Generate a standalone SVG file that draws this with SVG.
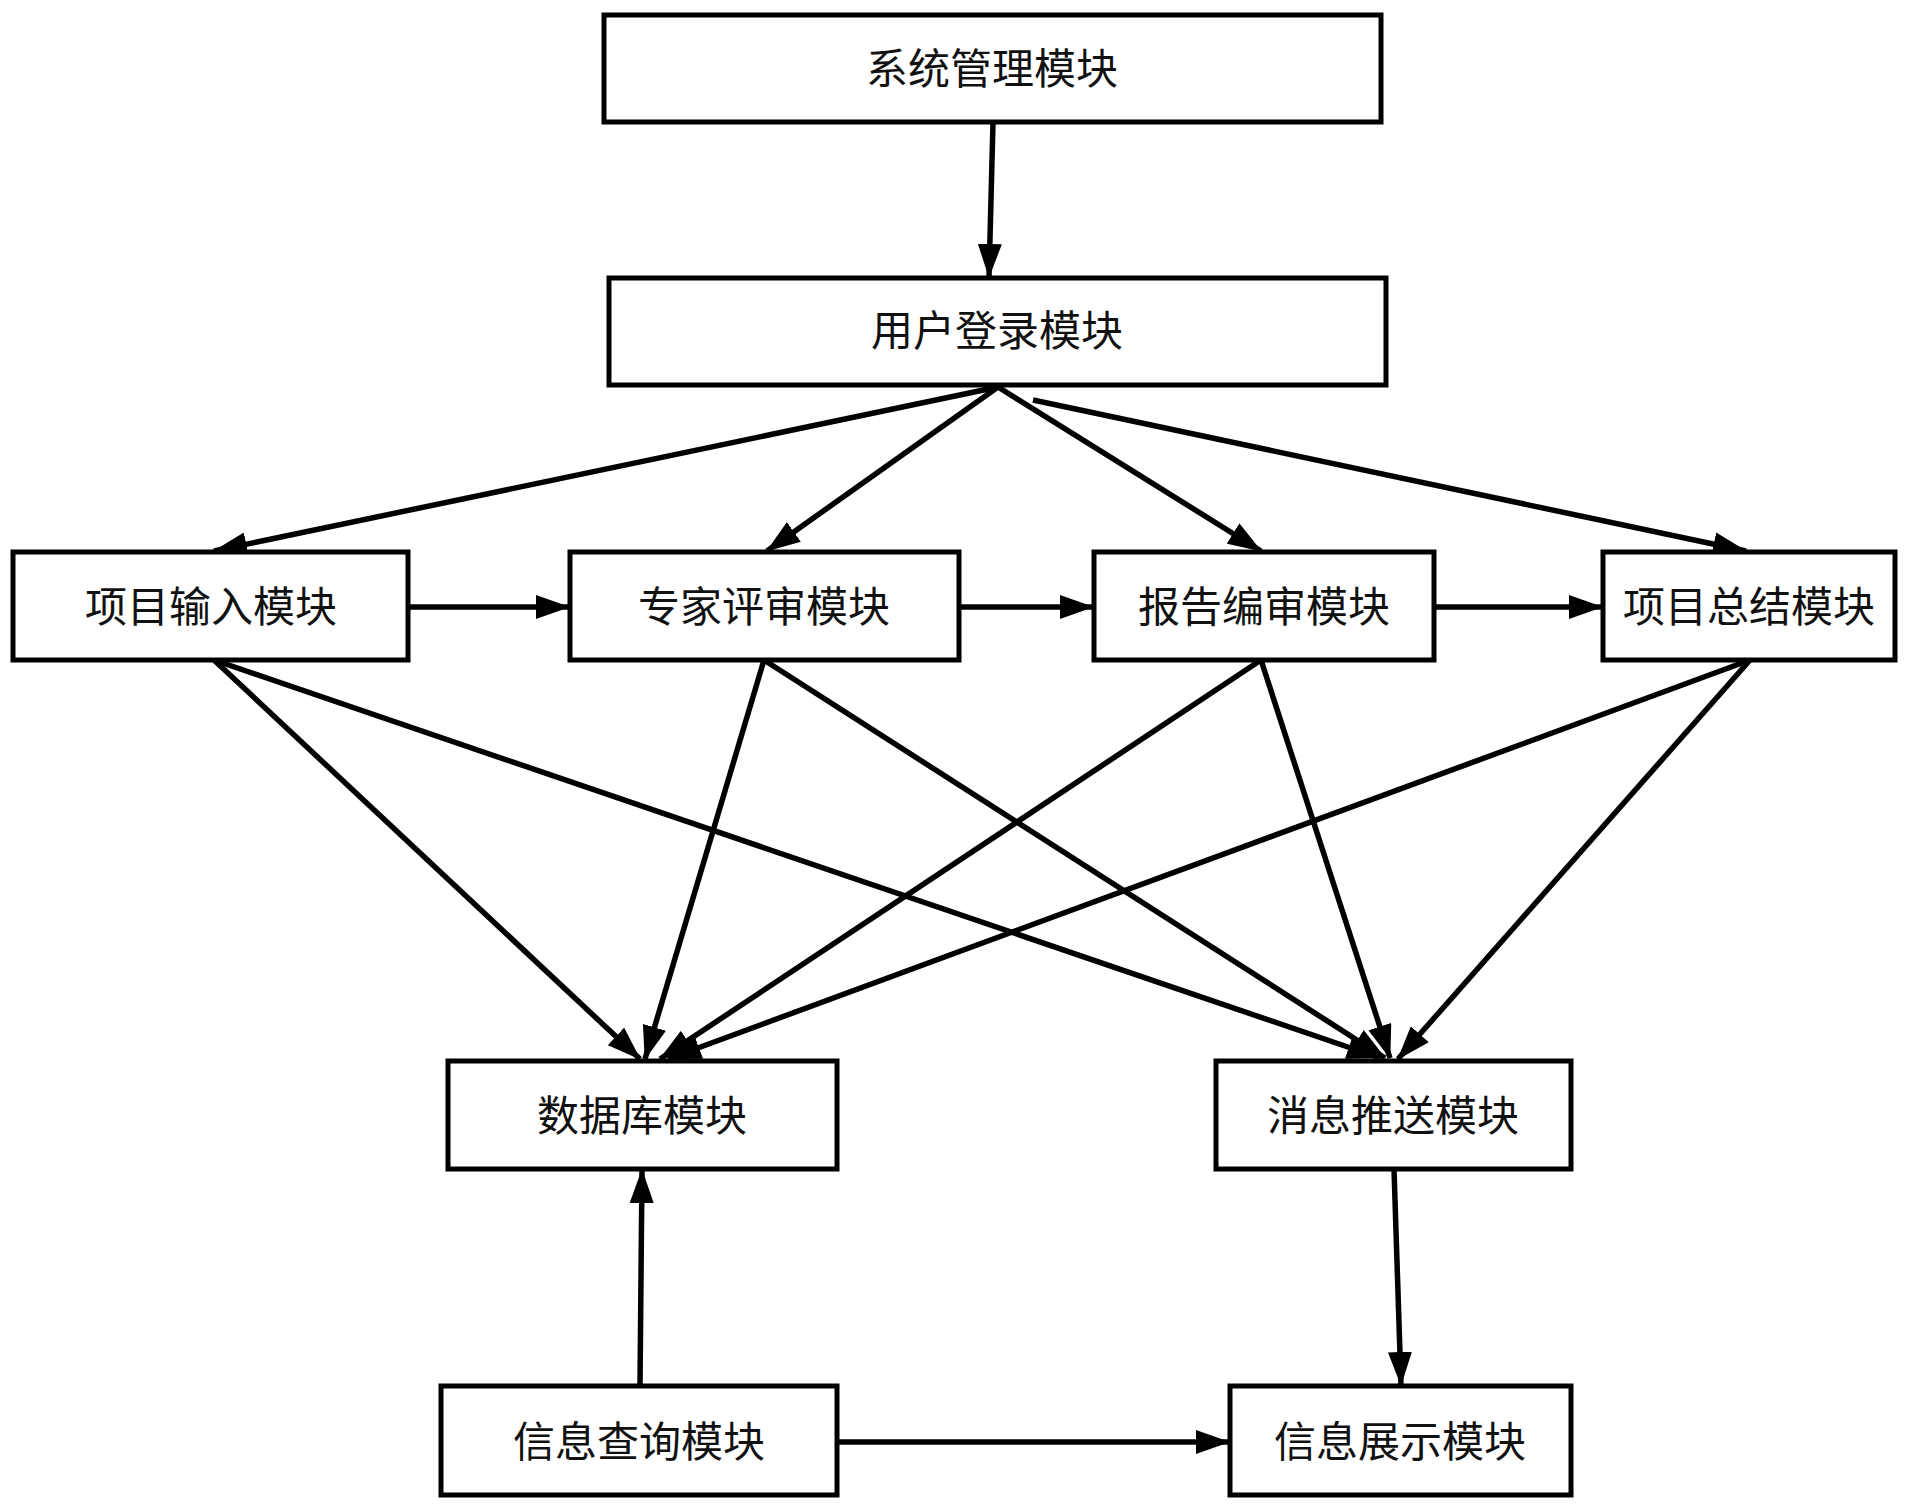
<svg xmlns="http://www.w3.org/2000/svg" width="1910" height="1511" viewBox="0 0 1910 1511">
<style>
.box{fill:#fff;stroke:#000;stroke-width:5}
.lbl{font-family:"Noto Sans CJK SC","Liberation Serif",serif;font-size:42px;fill:#111;text-anchor:middle;dominant-baseline:central}
.c{stroke:#000;stroke-width:5.5;fill:none;marker-end:url(#ah)}
</style>
<defs>
<marker id="ah" markerUnits="userSpaceOnUse" markerWidth="34" markerHeight="24" refX="33" refY="12" orient="auto">
<path d="M0,0 L34,12 L0,24 z" fill="#000"/>
</marker>
</defs>
<rect width="1910" height="1511" fill="#fff"/>
<g id="connectors">
<line class="c" x1="993" y1="122" x2="989" y2="277"/>
<line class="c" x1="998" y1="387" x2="214" y2="551"/>
<line class="c" x1="998" y1="387" x2="767" y2="551"/>
<line class="c" x1="998" y1="387" x2="1261" y2="551"/>
<line class="c" x1="1033" y1="400" x2="1746" y2="551"/>
<line class="c" x1="408" y1="607" x2="569" y2="607"/>
<line class="c" x1="959" y1="607" x2="1093" y2="607"/>
<line class="c" x1="1434" y1="607" x2="1602" y2="607"/>
<line class="c" x1="214" y1="660" x2="640" y2="1059"/>
<line class="c" x1="214" y1="660" x2="1380" y2="1058"/>
<line class="c" x1="764" y1="660" x2="645" y2="1059"/>
<line class="c" x1="764" y1="660" x2="1385" y2="1058"/>
<line class="c" x1="1261" y1="660" x2="660" y2="1059"/>
<line class="c" x1="1261" y1="660" x2="1390" y2="1058"/>
<line class="c" x1="1750" y1="660" x2="668" y2="1059"/>
<line class="c" x1="1750" y1="660" x2="1398" y2="1059"/>
<line class="c" x1="1394" y1="1169" x2="1401" y2="1385"/>
<line class="c" x1="640" y1="1386" x2="642" y2="1170"/>
<line class="c" x1="837" y1="1442" x2="1229" y2="1442"/>
</g>
<g id="n1"><rect class="box" x="604" y="15" width="777" height="107"/><text class="lbl" x="992" y="65">系统管理模块</text></g>
<g id="n2"><rect class="box" x="609" y="278" width="777" height="107"/><text class="lbl" x="997" y="327">用户登录模块</text></g>
<g id="n3"><rect class="box" x="13" y="552" width="395" height="108"/><text class="lbl" x="211" y="603">项目输入模块</text></g>
<g id="n4"><rect class="box" x="570" y="552" width="389" height="108"/><text class="lbl" x="764" y="603">专家评审模块</text></g>
<g id="n5"><rect class="box" x="1094" y="552" width="340" height="108"/><text class="lbl" x="1264" y="603">报告编审模块</text></g>
<g id="n6"><rect class="box" x="1603" y="552" width="292" height="108"/><text class="lbl" x="1749" y="603">项目总结模块</text></g>
<g id="n7"><rect class="box" x="448" y="1061" width="389" height="108"/><text class="lbl" x="642" y="1112">数据库模块</text></g>
<g id="n8"><rect class="box" x="1216" y="1061" width="355" height="108"/><text class="lbl" x="1393" y="1112">消息推送模块</text></g>
<g id="n9"><rect class="box" x="441" y="1386" width="396" height="109"/><text class="lbl" x="639" y="1438">信息查询模块</text></g>
<g id="n10"><rect class="box" x="1230" y="1386" width="341" height="109"/><text class="lbl" x="1400" y="1438">信息展示模块</text></g>
</svg>
